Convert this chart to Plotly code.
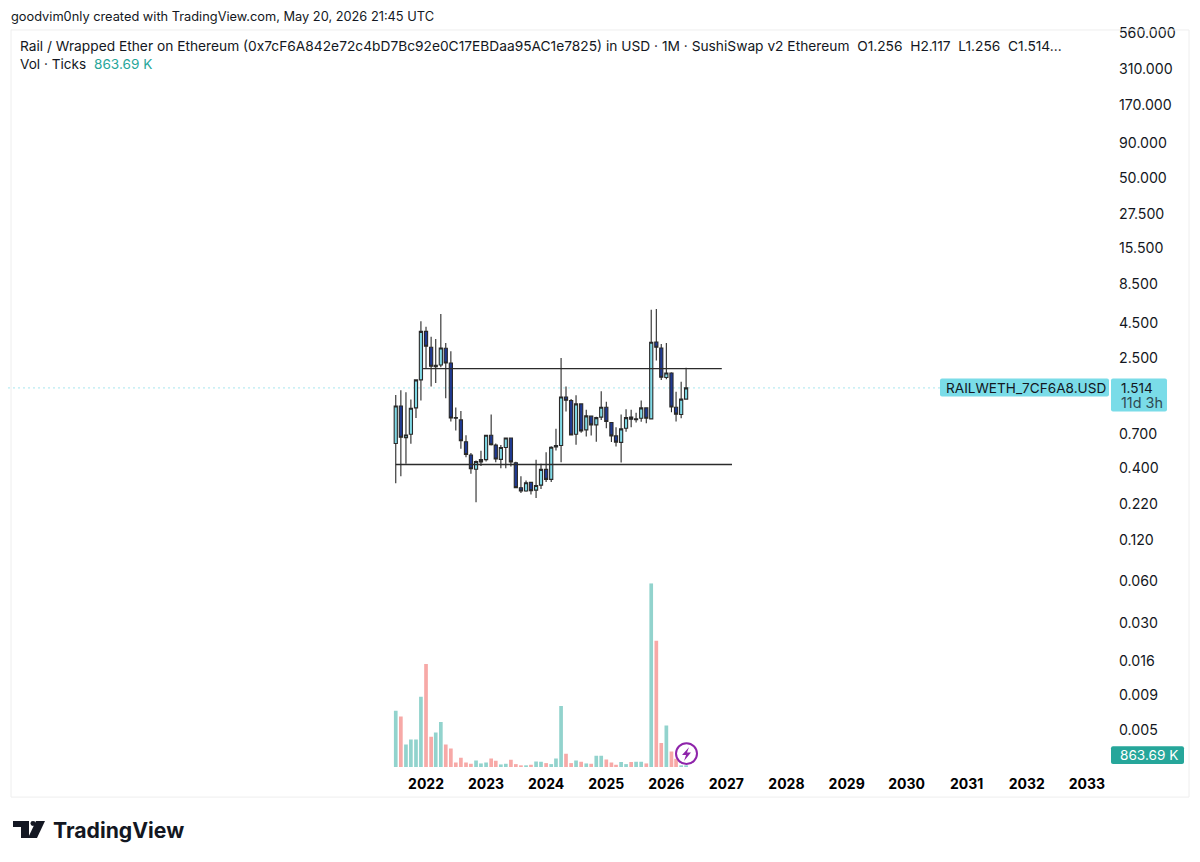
import pandas as pd
import plotly.graph_objects as go

# the page keeps an 8px body margin, so the figure is a bit smaller than the window
MARGIN = 8
W = 1200 - 2 * MARGIN
H = 862 - 2 * MARGIN
# plotly keeps this much free above the paper area
TOP = 5

# monthly candles, Jul 2021 to May 2026
months = pd.date_range('2021-07-01', '2026-05-01', freq='MS')

opens = [0.599, 1.121, 0.661, 0.699, 1.085, 1.730, 3.887, 2.981, 2.160, 2.220,
         2.932, 2.296, 0.922, 0.888, 0.617, 0.494, 0.390, 0.441, 0.458, 0.688,
         0.583, 0.460, 0.560, 0.656, 0.434, 0.286, 0.271, 0.313, 0.275, 0.299,
         0.389, 0.329, 0.566, 0.579, 1.302, 1.226, 0.699, 1.160, 0.752, 0.945,
         0.817, 0.930, 1.097, 0.850, 0.680, 0.610, 0.773, 0.930, 0.892, 0.912,
         1.085, 0.903, 3.260, 2.948, 1.800, 1.940, 1.097, 0.972, 1.256]
highs = [1.347, 1.455, 1.408, 1.246, 1.750, 4.598, 4.206, 3.559, 3.424, 5.195,
         3.204, 2.785, 1.091, 1.030, 0.688, 0.512, 0.451, 0.531, 0.691, 0.972,
         0.599, 0.583, 0.661, 0.661, 0.441, 0.347, 0.323, 0.316, 0.456, 0.427,
         0.517, 0.572, 0.765, 2.493, 1.548, 1.260, 1.340, 1.170, 1.050, 0.955,
         0.936, 1.430, 1.200, 0.855, 0.786, 0.972, 1.060, 1.050, 1.000, 1.226,
         1.090, 5.580, 5.650, 3.150, 3.204, 1.970, 1.420, 1.680, 2.117]
lows = [0.309, 0.347, 0.427, 0.596, 0.917, 1.226, 2.077, 1.548, 1.645, 2.136,
        1.273, 0.864, 0.743, 0.548, 0.477, 0.361, 0.225, 0.411, 0.444, 0.580,
        0.438, 0.397, 0.397, 0.408, 0.285, 0.262, 0.268, 0.256, 0.241, 0.281,
        0.315, 0.315, 0.532, 0.438, 1.020, 0.684, 0.586, 0.716, 0.672, 0.684,
        0.617, 0.888, 0.773, 0.613, 0.569, 0.436, 0.728, 0.786, 0.850, 0.860,
        0.840, 0.897, 2.388, 1.730, 1.750, 1.010, 0.864, 0.912, 1.256]
closes = [1.121, 0.665, 0.691, 1.079, 1.730, 3.887, 3.030, 2.171, 2.207, 2.948,
          2.296, 0.917, 0.912, 0.627, 0.499, 0.393, 0.444, 0.458, 0.688, 0.586,
          0.463, 0.560, 0.656, 0.441, 0.287, 0.271, 0.311, 0.273, 0.297, 0.389,
          0.329, 0.563, 0.579, 1.302, 1.233, 0.691, 1.160, 0.740, 0.950, 0.817,
          0.922, 1.097, 0.864, 0.680, 0.613, 0.765, 0.922, 0.897, 0.903, 1.085,
          0.912, 3.240, 2.981, 1.810, 1.940, 1.100, 0.977, 1.256, 1.514]
# ticks volume, millions
volumes = [50.7, 45.6, 20.4, 24.9, 24.9, 63.3, 92.7, 27.3, 31.2, 40.5,
           20.4, 16.8, 4.2, 8.4, 4.2, 3.0, 6.0, 3.3, 4.2, 7.8,
           5.7, 2.4, 3.0, 6.6, 2.7, 1.2, 1.2, 2.1, 5.1, 4.8,
           3.6, 2.7, 7.8, 54.9, 12.0, 3.6, 6.0, 4.8, 3.3, 3.0,
           10.2, 10.2, 6.9, 4.2, 2.1, 4.5, 2.7, 4.5, 4.8, 4.8,
           3.3, 165.3, 113.7, 21.6, 37.5, 14.1, 7.5, 1.5, 0.86]

# the two drawn levels
upper_x = ['2021-12-14', '2026-12-04']
upper_y = [2.09, 2.09]
lower_x = ['2021-07-01', '2027-02-04']
lower_y = [0.422, 0.422]

last_price = 1.514

price_ticks = [560, 310, 170, 90, 50, 27.5, 15.5, 8.5, 4.5, 2.5, 0.7, 0.4,
               0.22, 0.12, 0.06, 0.03, 0.016, 0.009, 0.005]
price_labels = ['560.000', '310.000', '170.000', '90.000', '50.000', '27.500',
                '15.500', '8.500', '4.500', '2.500', '0.700', '0.400', '0.220',
                '0.120', '0.060', '0.030', '0.016', '0.009', '0.005']
years = ['2022', '2023', '2024', '2025', '2026', '2027', '2028', '2029', '2030',
         '2031', '2032', '2033']

TEXT = '#131722'
FONT = 'Inter'
CANDLE_UP = '#7fd9e6'
CANDLE_DOWN = '#1f3a93'
LABEL = '#7adce8'
VOL_UP = '#92d3cd'
VOL_DOWN = '#f7a9a7'


# pixel position on the page -> paper coordinates
def px(x):
    return (x - MARGIN) / W


def py(y):
    return 1 - (y - MARGIN - TOP) / (H - TOP)


def note(x, y, text, size=13.6, color=TEXT, family=FONT, anchor='left'):
    return dict(xref='paper', yref='paper', x=px(x), y=py(y), text=text, showarrow=False,
                xanchor=anchor, yanchor='middle', align='left', borderpad=0,
                font=dict(family=family, size=size, color=color))


def box(x0, y0, x1, y1, color):
    r = 2
    path = (f'M {px(x0 + r):.5f},{py(y0):.5f} L {px(x1 - r):.5f},{py(y0):.5f} '
            f'Q {px(x1):.5f},{py(y0):.5f} {px(x1):.5f},{py(y0 + r):.5f} '
            f'L {px(x1):.5f},{py(y1 - r):.5f} Q {px(x1):.5f},{py(y1):.5f} {px(x1 - r):.5f},{py(y1):.5f} '
            f'L {px(x0 + r):.5f},{py(y1):.5f} Q {px(x0):.5f},{py(y1):.5f} {px(x0):.5f},{py(y1 - r):.5f} '
            f'L {px(x0):.5f},{py(y0 + r):.5f} Q {px(x0):.5f},{py(y0):.5f} {px(x0 + r):.5f},{py(y0):.5f} Z')
    return dict(type='path', xref='paper', yref='paper', path=path, fillcolor=color,
                line=dict(width=0), layer='above')


def poly(points, color):
    path = 'M ' + ' L '.join(f'{px(a):.5f},{py(b):.5f}' for a, b in points) + ' Z'
    return dict(type='path', xref='paper', yref='paper', path=path, fillcolor=color,
                line=dict(width=0), layer='above')


vol_colors = [VOL_UP if c >= o else VOL_DOWN for o, c in zip(opens, closes)]

fig = go.Figure()
fig.add_trace(go.Bar(x=months, y=volumes, marker=dict(color=vol_colors, line=dict(width=0)),
                     yaxis='y2', name='Vol'))
fig.add_trace(go.Scatter(x=upper_x, y=upper_y, mode='lines', line=dict(color='#2b2b2b', width=1.4)))
fig.add_trace(go.Scatter(x=lower_x, y=lower_y, mode='lines', line=dict(color='#2b2b2b', width=1.4)))
fig.add_trace(go.Candlestick(x=months, open=opens, high=highs, low=lows, close=closes,
                             increasing=dict(fillcolor=CANDLE_UP, line=dict(color='#2a2a2a', width=1.1)),
                             decreasing=dict(fillcolor=CANDLE_DOWN, line=dict(color='#2a2a2a', width=1.1))))

shapes = [
    # outer frame
    dict(type='rect', xref='paper', yref='paper', x0=px(11), x1=px(1189), y0=py(29), y1=py(797),
         line=dict(color='#eeeeee', width=1), layer='above'),
    # last price line
    dict(type='line', xref='paper', yref='y', x0=px(8), x1=px(940), y0=last_price, y1=last_price,
         line=dict(color='#a8e6ee', width=1, dash='2px,3px'), layer='below'),
    box(940, 378, 1109, 396, LABEL),
    box(1111, 378, 1167, 411, LABEL),
    box(1111, 746, 1184, 764, '#26a69a'),
    # lightning badge
    dict(type='circle', xref='paper', yref='paper', x0=px(676), x1=px(697), y0=py(743), y1=py(764),
         fillcolor='white', line=dict(color='#8e24aa', width=2), layer='above'),
    poly([(689, 747), (682, 755), (686, 755), (684, 761), (691, 752.5), (687, 752.5)], '#8e24aa'),
    # TradingView mark
    poly([(13, 821), (29, 821), (29, 838), (21, 838), (21, 827), (13, 827)], '#131722'),
    poly([(36, 821), (45, 821), (37, 838), (28, 838)], '#131722'),
    dict(type='circle', xref='paper', yref='paper', x0=px(30.5), x1=px(35.5), y0=py(821), y1=py(826),
         fillcolor='#131722', line=dict(width=0), layer='above'),
]

annotations = [
    note(10, 16, 'goodvim0nly created with TradingView.com, May 20, 2026 21:45 UTC', size=12.8),
    note(19, 45, 'Rail / Wrapped Ether on Ethereum (0x7cF6A842e72c4bD7Bc92e0C17EBDaa95AC1e7825) in USD'
                 ' · 1M · SushiSwap v2 Ethereum  O1.256  H2.117  L1.256  C1.514...', size=13.76),
    note(19, 63, 'Vol · Ticks'),
    note(93, 63, '863.69 K', color='#26a69a'),
    note(945, 387, 'RAILWETH_7CF6A8.USD'),
    note(1120, 387, '1.514'),
    note(1120, 402, '11d 3h', size=14.4, color='#2f4a52'),
    note(1119, 755, '863.69 K', color='white'),
    note(52, 830, '<b>TradingView</b>', size=21.2, color='#131722'),
]

fig.update_layout(
    width=W, height=H, margin=dict(l=0, r=0, t=0, b=0), autosize=False,
    paper_bgcolor='white', plot_bgcolor='white', showlegend=False,
    font=dict(family=FONT, size=13, color=TEXT),
    boxgap=0.02, bargap=0.2,
    xaxis=dict(type='date', domain=[px(11), px(1110)], range=['2015-02-04', '2033-05-21'],
               tickvals=[y + '-01-01' for y in years], ticktext=years, ticks='', ticklabelstandoff=6,
               tickfont=dict(family=FONT, size=14, color='#000000', weight='bold'),
               showgrid=False, zeroline=False, showline=False, rangeslider=dict(visible=False)),
    yaxis=dict(type='log', domain=[py(768), py(29)], range=[-2.574, 2.773], side='right',
               tickvals=price_ticks, ticktext=price_labels, ticks='', ticklabelstandoff=8,
               tickfont=dict(family=FONT, size=14.2, color=TEXT),
               showgrid=False, zeroline=False, showline=False),
    yaxis2=dict(domain=[py(767), py(583)], range=[0, 165.3], anchor='x', visible=False),
    shapes=shapes, annotations=annotations,
)

fig.write_html("out.html")
